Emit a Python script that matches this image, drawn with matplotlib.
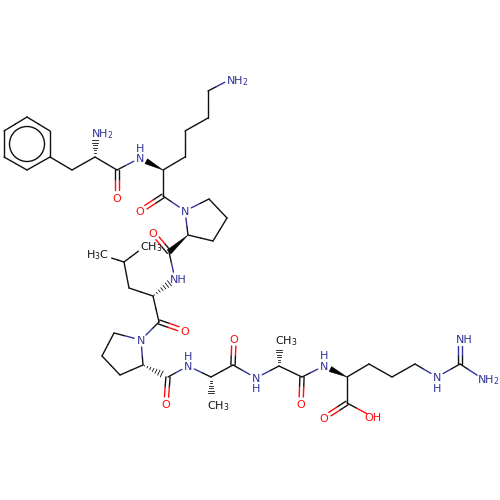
import numpy as np
import matplotlib
matplotlib.use("Agg")
import matplotlib.pyplot as plt
from matplotlib.patches import Polygon, Circle

plt.rcParams['mathtext.default'] = 'regular'

BLUE = '#333399'
RED = '#ff0d0d'
BLACK = '#111111'

# posicoes dos atomos (pixels)
atoms = {
    'b1': (27, 117), 'b2': (50, 131), 'b3': (50, 157), 'b4': (27, 170), 'b5': (4, 157), 'b6': (4, 131),
    'ch2': (72, 170), 'ca1': (95, 157), 'n1': (95, 133), 'c1': (117, 170), 'o1': (117, 197),
    'n2': (140, 158), 'ca2': (163, 170), 'k1': (185, 157), 'k2': (185, 131), 'k3': (208, 118),
    'k4': (208, 91), 'nk': (231, 79), 'c2': (163, 196), 'o2': (140, 211), 'np1': (185, 211),
    'p1': (209, 199), 'p2': (227, 218), 'p3': (213, 241), 'p4': (188, 235), 'c3': (169, 252),
    'o3': (153, 233), 'n3': (175, 279), 'ca3': (153, 296), 'l1': (129, 288), 'l2': (124, 262),
    'l3': (144, 247), 'l4': (105, 256), 'c4': (159, 322), 'o4': (185, 331), 'np2': (141, 340),
    'q1': (114, 333), 'q2': (102, 356), 'q3': (120, 375), 'q4': (143, 365), 'c5': (168, 377),
    'o5': (166, 404), 'n4': (188, 366), 'ca4': (211, 377), 'm1': (211, 400), 'c6': (233, 365),
    'o6': (234, 339), 'n5': (256, 378), 'ca5': (279, 366), 'm2': (279, 343), 'c7': (302, 377),
    'o7': (301, 404), 'n6': (324, 366), 'ca6': (347, 377), 'r1': (369, 364), 'r2': (392, 377),
    'r3': (415, 364), 'n7': (437, 377), 'c8': (460, 364), 'n8': (460, 339), 'n9': (483, 379),
    'c9': (347, 403), 'o8': (324, 418), 'o9': (373, 417),
}

single_bonds = [
    ('b1', 'b2'), ('b2', 'b3'), ('b3', 'b4'), ('b4', 'b5'), ('b5', 'b6'), ('b6', 'b1'),
    ('b3', 'ch2'), ('ch2', 'ca1'), ('ca1', 'c1'), ('c1', 'n2'), ('ca2', 'k1'), ('k1', 'k2'),
    ('k2', 'k3'), ('k3', 'k4'), ('k4', 'nk'), ('ca2', 'c2'), ('c2', 'np1'), ('np1', 'p1'),
    ('p1', 'p2'), ('p2', 'p3'), ('p3', 'p4'), ('p4', 'np1'), ('c3', 'n3'), ('ca3', 'l1'),
    ('l1', 'l2'), ('l2', 'l3'), ('l2', 'l4'), ('ca3', 'c4'), ('c4', 'np2'), ('np2', 'q1'),
    ('q1', 'q2'), ('q2', 'q3'), ('q3', 'q4'), ('q4', 'np2'), ('c5', 'n4'), ('n4', 'ca4'),
    ('ca4', 'c6'), ('c6', 'n5'), ('n5', 'ca5'), ('ca5', 'c7'), ('c7', 'n6'), ('ca6', 'r1'),
    ('r1', 'r2'), ('r2', 'r3'), ('r3', 'n7'), ('n7', 'c8'), ('c8', 'n9'), ('ca6', 'c9'),
    ('c9', 'o9'),
]
double_bonds = [
    ('c1', 'o1'), ('c2', 'o2'), ('c3', 'o3'), ('c4', 'o4'), ('c5', 'o5'),
    ('c6', 'o6'), ('c7', 'o7'), ('c9', 'o8'), ('c8', 'n8'),
]
wedge_bonds = [('ca2', 'n2'), ('p4', 'c3'), ('ca6', 'n6')]
hash_bonds = [('ca1', 'n1'), ('ca3', 'n3'), ('q4', 'c5'), ('ca4', 'm1'), ('ca5', 'm2')]

# texto, x, y (centro), cor
labels = [
    ('NH$_2$', 102, 137, BLUE), ('O', 117, 202, RED), ('N', 140, 162, BLUE), ('H', 140, 152, BLUE),
    ('NH$_2$', 237, 84, BLUE), ('O', 140, 215, RED), ('N', 185, 215, BLUE), ('O', 153, 237, RED),
    ('NH', 178, 283, BLUE), ('CH$_3$', 151, 250, BLACK), ('H$_3$C', 97, 258, BLACK), ('O', 185, 335, RED),
    ('N', 141, 344, BLUE), ('O', 166, 408, RED), ('N', 188, 370, BLUE), ('H', 188, 360, BLUE),
    ('CH$_3$', 218, 409, BLACK), ('O', 234, 343, RED), ('N', 256, 382, BLUE), ('H', 256, 392, BLUE),
    ('CH$_3$', 286, 344, BLACK), ('O', 301, 408, RED), ('N', 324, 370, BLUE), ('H', 324, 359, BLUE),
    ('O', 324, 422, RED), ('OH', 373, 421, RED), ('N', 437, 381, BLUE), ('H', 437, 392, BLUE),
    ('NH', 464, 343, BLUE), ('NH$_2$', 488, 383, BLUE),
]

hetero_color = {'n': BLUE, 'o': RED}
TRIM = 7


def atom_color(name):
    return hetero_color.get(name[0], BLACK) if name[1:].isdigit() or name == 'nk' or name.startswith('np') else BLACK


def has_label(name):
    return name[0] in 'no' or name in ('l3', 'l4', 'm1', 'm2')


def draw_bond(ax, a, b, offset=0):
    p = np.array(atoms[a], float)
    q = np.array(atoms[b], float)
    d = (q - p) / np.hypot(*(q - p))
    perp = np.array([-d[1], d[0]]) * offset
    if has_label(a):
        p = p + d * TRIM
    if has_label(b):
        q = q - d * TRIM
    mid = (p + q) / 2
    ax.plot([p[0] + perp[0], mid[0] + perp[0]], [p[1] + perp[1], mid[1] + perp[1]],
            color=atom_color(a), lw=1.0, solid_capstyle='round')
    ax.plot([mid[0] + perp[0], q[0] + perp[0]], [mid[1] + perp[1], q[1] + perp[1]],
            color=atom_color(b), lw=1.0, solid_capstyle='round')


fig = plt.figure(figsize=(5, 5), dpi=100)
ax = fig.add_axes([0, 0, 1, 1])
ax.set_xlim(0, 500)
ax.set_ylim(500, 0)
ax.axis('off')

for a, b in single_bonds:
    draw_bond(ax, a, b)
for a, b in double_bonds:
    draw_bond(ax, a, b, 2.1)
    draw_bond(ax, a, b, -2.1)

# anel aromatico
ax.add_patch(Circle((27, 144), 17.5, fill=False, ec=BLACK, lw=1.0))

for a, b in wedge_bonds:
    p = np.array(atoms[a], float)
    q = np.array(atoms[b], float)
    d = (q - p) / np.hypot(*(q - p))
    if has_label(b):
        q = q - d * TRIM
    perp = np.array([-d[1], d[0]]) * 2.8
    ax.add_patch(Polygon([p, q + perp, q - perp], closed=True, fc='black', ec='black', lw=0.3))

for a, b in hash_bonds:
    p = np.array(atoms[a], float)
    q = np.array(atoms[b], float)
    d = (q - p) / np.hypot(*(q - p))
    q = q - d * TRIM
    perp = np.array([-d[1], d[0]])
    for f in np.linspace(0.08, 1, 7):
        c = p + (q - p) * f
        w = 3.2 * f
        ax.plot([c[0] - perp[0] * w, c[0] + perp[0] * w], [c[1] - perp[1] * w, c[1] + perp[1] * w],
                color=BLACK, lw=0.6)

for txt, x, y, col in labels:
    ax.text(x, y, txt, color=col, fontsize=8, ha='center', va='baseline', family='DejaVu Sans')

fig.savefig('out.png', dpi=100, facecolor='white')
